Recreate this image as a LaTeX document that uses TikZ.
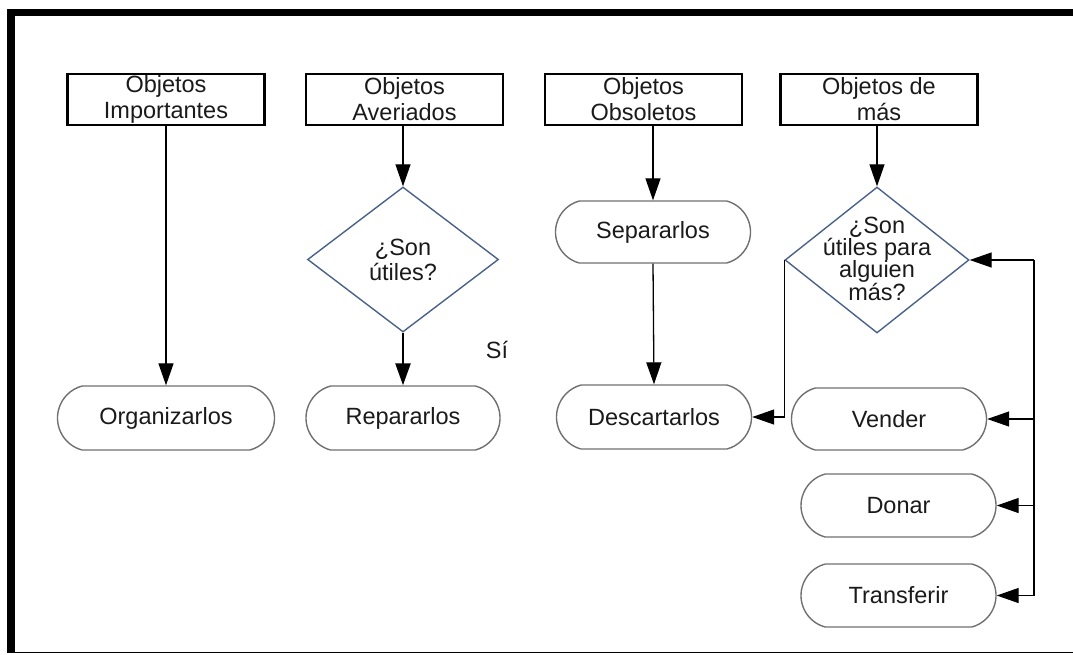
\documentclass[tikz,border=0pt]{standalone}
\usepackage{fontspec}
\setmainfont{Liberation Sans}
\usetikzlibrary{shapes.geometric,shapes.misc,arrows.meta}
\definecolor{txt}{HTML}{1A1A1A}
\definecolor{termcol}{HTML}{707070}
\definecolor{diacol}{HTML}{4A6288}
\begin{document}
\begin{tikzpicture}[x=1pt,y=-1pt,
  lbl/.style={font=\fontsize{23.5}{26}\selectfont, text=txt, align=center, inner sep=0pt},
  topbox/.style={lbl, draw=black, line width=2.2pt, minimum width=197pt, minimum height=51pt},
  term/.style={lbl, rounded rectangle, rounded rectangle arc length=150, draw=termcol, line width=1.4pt, minimum width=195pt, minimum height=63pt},
  dia/.style={diamond, draw=diacol, line width=1.4pt, inner sep=0pt},
  arr/.style={-{Triangle[length=22pt,width=15pt]}, line width=1.3pt, draw=black},
  con/.style={line width=1.3pt, draw=black}]
\useasboundingbox (0,0) rectangle (1073,654);
% frame
\fill[black] (7,9) rectangle (1073,15.5);
\fill[black] (7,9) rectangle (15,653);
\draw[line width=1.5pt] (7,652.5) -- (1073,652.5);
% top boxes
\node[topbox] (b1) at (166,99.5) {Objetos\\Importantes};
\node[topbox] (b2) at (404.5,99.5) {Objetos\\Averiados};
\node[topbox] (b3) at (643.5,99.5) {Objetos\\Obsoletos};
\node[topbox] (b4) at (879,99.5) {Objetos de\\más};
% column 1
\node[term, minimum width=217pt, minimum height=64pt] (o1) at (166,418) {Organizarlos};
% column 2
\node[dia, minimum width=191pt, minimum height=145pt] (d1) at (403,259.5) {};
\node[lbl, font=\fontsize{23.5}{25}\selectfont] (d1t) at (403,260) {¿Son\\útiles?};
\node[term, minimum width=194pt, minimum height=64pt] (r1) at (403,418) {Repararlos};
\node[lbl] (si) at (497,350) {Sí};
% column 3
\node[term, minimum height=62pt] (s1) at (653,232) {Separarlos};
\node[term, minimum height=64pt] (c1) at (654,417) {Descartarlos};
% column 4
\node[dia, minimum width=184pt, minimum height=146pt] (d2) at (877,260) {};
\node[lbl, font=\fontsize{23.5}{22}\selectfont] (d2t) at (877,259) {¿Son\\útiles para\\alguien\\más?};
\node[term, minimum height=62pt] (v) at (889,419) {Vender};
\node[term] (dn) at (898.5,505.5) {Donar};
\node[term] (t) at (898.5,595.5) {Transferir};
\coordinate (btop) at (1034,260);
\coordinate (bbot) at (1034,595.5);
% connectors
\draw[arr] (b1.south) -- (o1.north);
\draw[arr] (b2.south -| d1.north) -- (d1.north);
\draw[arr, line width=2.4pt] (d1.south) -- (r1.north);
\draw[arr] (b3.south -| s1.north) -- (s1.north);
\draw[arr] (s1.south) -- (c1.north);
\draw[arr] (b4.south -| d2.north) -- (d2.north);
\draw[arr] (d2.west) |- (c1.east);
\draw[con] (btop) -- (bbot);
\draw[arr] (btop) -- (d2.east);
\draw[arr] (v.east -| bbot) -- (v.east);
\draw[arr] (dn.east -| bbot) -- (dn.east);
\draw[arr] (bbot) -- (t.east);
\end{tikzpicture}
\end{document}
